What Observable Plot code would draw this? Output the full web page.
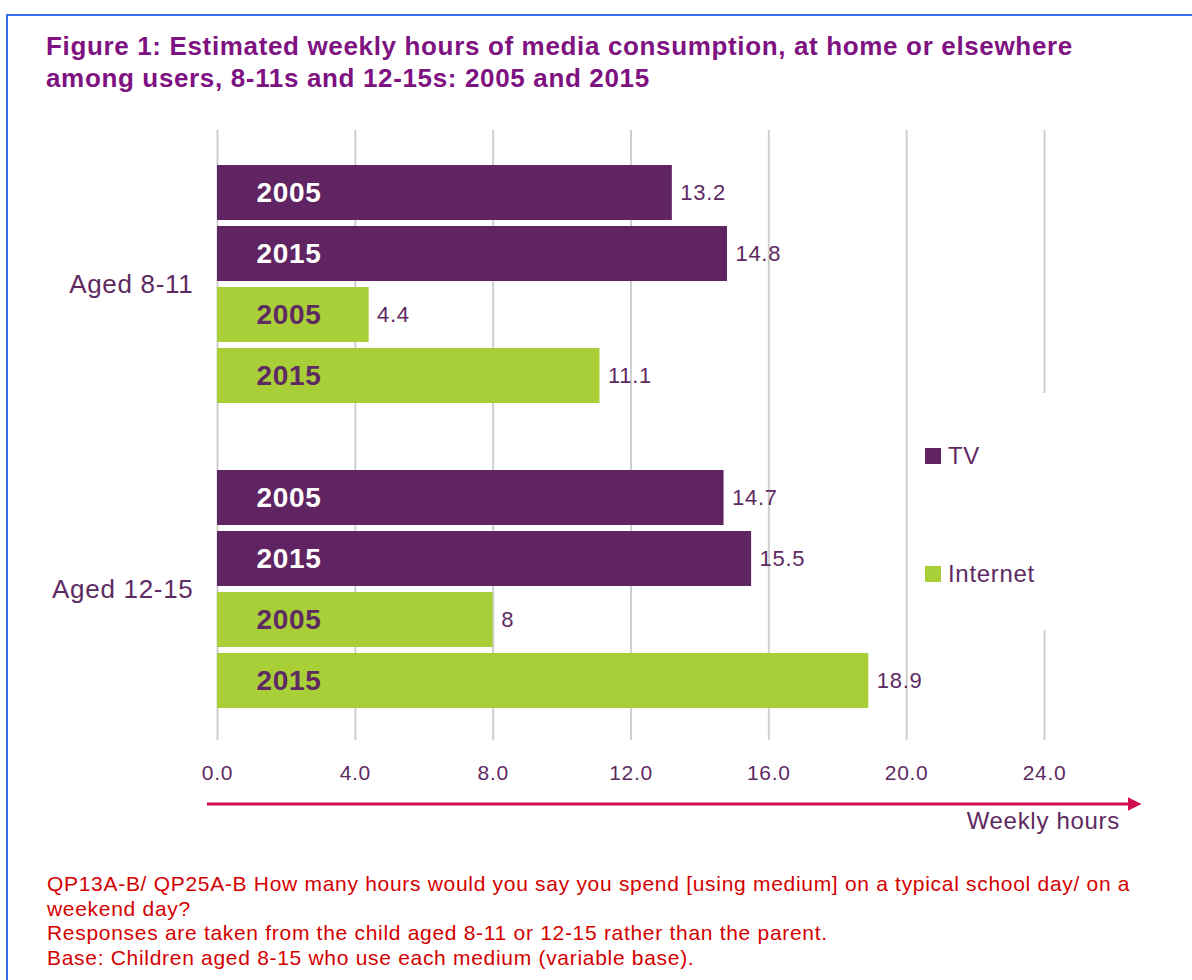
<!DOCTYPE html>
<html>
<head>
<meta charset="utf-8">
<script src="https://cdn.jsdelivr.net/npm/d3@7"></script>
<script src="https://cdn.jsdelivr.net/npm/@observablehq/plot@0.6"></script>
<style>
  html, body { margin: 0; padding: 0; background: #fff; }
  body { width: 1192px; height: 980px; overflow: hidden; font-family: "Liberation Sans", Arial, Helvetica, sans-serif; }
  #wrap { position: relative; width: 1192px; height: 980px; }
  #frame { position: absolute; left: 6px; top: 14px; width: 1300px; height: 1100px; border-left: 2px solid #3a6ef2; border-top: 2px solid #3a6ef2; }
  #title { position: absolute; left: 46px; top: 31px; font-weight: bold; font-size: 26px; letter-spacing: 0.65px; line-height: 31.5px; color: #7e1281; white-space: nowrap; }
  #chart { position: absolute; left: 0; top: 110px; }
  #legend { position: absolute; left: 912px; top: 393px; width: 134px; height: 237px; background: #fff; }
  .lg { position: absolute; left: 13px; font-size: 24px; letter-spacing: 0.7px; color: #5e2a62; display: flex; align-items: center; white-space: nowrap; }
  .sw { width: 16px; height: 16px; margin-right: 7px; display: inline-block; }
  #xlabel { position: absolute; right: 72px; top: 807px; font-size: 24px; letter-spacing: 0.7px; color: #5e2a62; white-space: nowrap; }
  #foot { position: absolute; left: 47px; top: 872px; font-size: 21px; letter-spacing: 0.7px; line-height: 24.5px; color: #d40000; white-space: nowrap; }
</style>
</head>
<body>
<div id="wrap">
  <div id="frame"></div>
  <div id="title">Figure 1: Estimated weekly hours of media consumption, at home or elsewhere<br>among users, 8-11s and 12-15s: 2005 and 2015</div>
  <div id="chart"></div>
  <div id="legend"></div>
  <div id="xlabel">Weekly hours</div>
  <div id="foot">QP13A-B/ QP25A-B How many hours would you say you spend [using medium] on a typical school day/ on a<br>weekend day?<br>Responses are taken from the child aged 8-11 or 12-15 rather than the parent.<br>Base: Children aged 8-15 who use each medium (variable base).</div>
</div>
<script>
// ---- data ----
const ageGroups = ["Aged 8-11", "Aged 12-15"];
const media = ["TV", "TV", "Internet", "Internet"];
const years = ["2005", "2015", "2005", "2015"];
const hoursAged8to11 = [13.2, 14.8, 4.4, 11.1];
const hoursAged12to15 = [14.7, 15.5, 8, 18.9];
const xTicks = [0, 4, 8, 12, 16, 20, 24];
const seriesNames = ["TV", "Internet"];
const seriesColors = ["#612462", "#a8ce38"];

// ---- build table ----
const valuesByAge = [hoursAged8to11, hoursAged12to15];
const rows = [];
ageGroups.forEach((age, gi) => {
  media.forEach((m, i) => {
    rows.push({ age, medium: m, year: years[i], value: valuesByAge[gi][i], key: `${age}|${m}|${years[i]}|${i}` });
  });
});
const domain = [];
ageGroups.forEach((age, gi) => {
  if (gi > 0) domain.push(`gap${gi}`);
  rows.filter(r => r.age === age).forEach(r => domain.push(r.key));
});
const groupLabels = ageGroups.map(age => ({ age, key: rows.filter(r => r.age === age)[1].key }));

const textColor = "#5e2a62";
const font = '"Liberation Sans", Arial, Helvetica, sans-serif';

const plot = Plot.plot({
  width: 1192,
  height: 730,
  marginLeft: 217,
  marginRight: 148,
  marginTop: 20,
  marginBottom: 100,
  style: { fontFamily: font, background: "transparent", overflow: "visible", letterSpacing: "0.7px" },
  x: { domain: [0, 24], axis: null },
  y: { type: "band", domain, range: [48, 604], padding: 0.1, axis: null },
  color: { domain: seriesNames, range: seriesColors },
  marks: [
    Plot.gridX(xTicks, { stroke: "#cfcfcf", strokeWidth: 2, strokeOpacity: 1 }),
    Plot.barX(rows, { x: "value", y: "key", fill: "medium" }),
    Plot.text(rows.filter(r => r.medium === "TV"), {
      y: "key", text: "year", frameAnchor: "left", dx: 39, textAnchor: "start",
      fill: "white", fontWeight: "bold", fontSize: 28
    }),
    Plot.text(rows.filter(r => r.medium === "Internet"), {
      y: "key", text: "year", frameAnchor: "left", dx: 39, textAnchor: "start",
      fill: textColor, fontWeight: "bold", fontSize: 28
    }),
    Plot.text(rows, {
      x: "value", y: "key", text: d => String(d.value), dx: 8, textAnchor: "start",
      fill: textColor, fontSize: 22
    }),
    Plot.text(groupLabels, {
      y: "key", text: "age", frameAnchor: "left", dx: -24, dy: 30.5, textAnchor: "end",
      fill: textColor, fontSize: 26
    }),
    Plot.axisX(xTicks, {
      tickSize: 0, tickPadding: 25, tickFormat: d => d.toFixed(1),
      fill: textColor, fontSize: 21, label: null
    })
  ]
});
document.getElementById("chart").appendChild(plot);

// arrow under the axis (decoration)
const svg = d3.select(plot);
const defs = svg.append("defs");
defs.append("marker").attr("id", "arrowhead").attr("viewBox", "0 0 10 10")
  .attr("refX", 0).attr("refY", 5).attr("markerWidth", 4.5).attr("markerHeight", 5.5)
  .attr("markerUnits", "strokeWidth").attr("orient", "auto")
  .append("path").attr("d", "M0,0 L10,5 L0,10 Z").attr("fill", "#d0104e");
svg.append("line").attr("x1", 207).attr("x2", 1128).attr("y1", 694).attr("y2", 694)
  .attr("stroke", "#d0104e").attr("stroke-width", 3).attr("marker-end", "url(#arrowhead)");

// legend
const legend = document.getElementById("legend");
const legendTops = [49, 167];
seriesNames.forEach((name, i) => {
  const item = document.createElement("div");
  item.className = "lg";
  item.style.top = legendTops[i] + "px";
  item.innerHTML = `<span class="sw" style="background:${seriesColors[i]}"></span>${name}`;
  legend.appendChild(item);
});
</script>
</body>
</html>
